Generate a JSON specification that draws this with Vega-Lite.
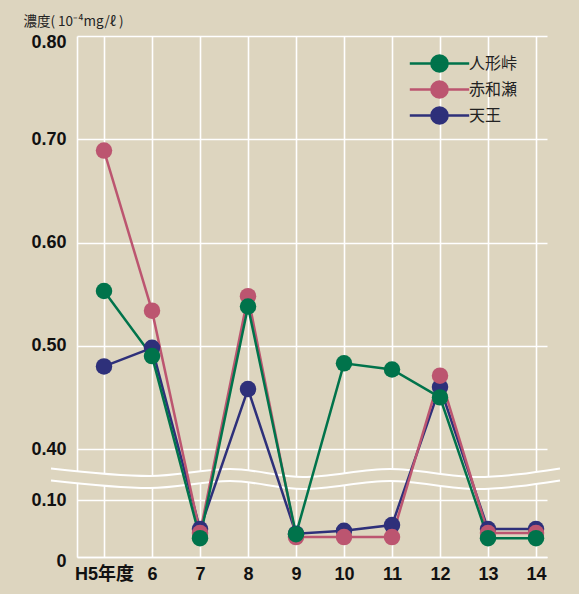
{
  "$schema": "https://vega.github.io/schema/vega-lite/v6.json",
  "autosize": {"type": "none"},
  "padding": {"left": 77, "top": 36, "right": 32, "bottom": 37},
  "width": 470,
  "height": 521,
  "background": "#ddd5bf",
  "config": {
    "view": {"stroke": null},
    "axis": {
      "gridColor": "#ffffff",
      "gridWidth": 1.6,
      "domainColor": "#ffffff",
      "domainWidth": 1.6,
      "ticks": false,
      "tickSize": 0,
      "labelFont": "Liberation Sans, Noto Sans CJK JP",
      "labelFontSize": 18,
      "labelFontWeight": "bold",
      "labelColor": "#111111"
    }
  },
  "datasets": {
    "series": [
      {"year": 5, "site": "天王", "value": 0.480},
      {"year": 6, "site": "天王", "value": 0.498},
      {"year": 7, "site": "天王", "value": 0.049},
      {"year": 8, "site": "天王", "value": 0.458},
      {"year": 9, "site": "天王", "value": 0.041},
      {"year": 10, "site": "天王", "value": 0.046},
      {"year": 11, "site": "天王", "value": 0.056},
      {"year": 12, "site": "天王", "value": 0.460},
      {"year": 13, "site": "天王", "value": 0.049},
      {"year": 14, "site": "天王", "value": 0.049},
      {"year": 5, "site": "赤和瀬", "value": 0.689},
      {"year": 6, "site": "赤和瀬", "value": 0.534},
      {"year": 7, "site": "赤和瀬", "value": 0.042},
      {"year": 8, "site": "赤和瀬", "value": 0.548},
      {"year": 9, "site": "赤和瀬", "value": 0.035},
      {"year": 10, "site": "赤和瀬", "value": 0.035},
      {"year": 11, "site": "赤和瀬", "value": 0.035},
      {"year": 12, "site": "赤和瀬", "value": 0.471},
      {"year": 13, "site": "赤和瀬", "value": 0.042},
      {"year": 14, "site": "赤和瀬", "value": 0.042},
      {"year": 5, "site": "人形峠", "value": 0.553},
      {"year": 6, "site": "人形峠", "value": 0.490},
      {"year": 7, "site": "人形峠", "value": 0.033},
      {"year": 8, "site": "人形峠", "value": 0.538},
      {"year": 9, "site": "人形峠", "value": 0.040},
      {"year": 10, "site": "人形峠", "value": 0.483},
      {"year": 11, "site": "人形峠", "value": 0.477},
      {"year": 12, "site": "人形峠", "value": 0.450},
      {"year": 13, "site": "人形峠", "value": 0.033},
      {"year": 14, "site": "人形峠", "value": 0.033}
    ],
    "wave": [
      {"x": 3.896, "t": 0.2853, "b": 0.2147},
      {"x": 5.958, "t": 0.2412, "b": 0.1706},
      {"x": 7.625, "t": 0.2824, "b": 0.2118},
      {"x": 9.146, "t": 0.2353, "b": 0.1647},
      {"x": 10.958, "t": 0.2824, "b": 0.2118},
      {"x": 12.771, "t": 0.2353, "b": 0.1647},
      {"x": 14.5, "t": 0.2853, "b": 0.2147}
    ]
  },
  "layer": [
    {
      "data": {"name": "wave"},
      "mark": {"type": "area", "interpolate": "monotone", "color": "#ddd5bf", "clip": false},
      "encoding": {
        "x": {"field": "x", "type": "quantitative", "scale": {"domain": [4.4375, 14.229], "nice": false, "zero": false},
              "axis": {"values": [5, 6, 7, 8, 9, 10, 11, 12, 13, 14], "title": null, "labelPadding": 8,
                       "labelExpr": "datum.value == 5 ? 'H5年度' : datum.label"}},
        "y": {"field": "t", "type": "quantitative",
              "scale": {"domain": [0, 0.1, 0.4, 0.8], "range": [521, 464, 413, 0], "nice": false, "zero": false},
              "axis": {
                "values": [0, 0.1, 0.4, 0.5, 0.6, 0.7, 0.8],
                "labelExpr": "datum.value == 0 ? '0' : format(datum.value, '.2f')",
                "labelPadding": 11,
                "labelOffset": {"condition": [{"test": "datum.value >= 0.79", "value": 6}, {"test": "datum.value == 0", "value": 4}], "value": 0},
                "title": "濃度( 10⁻⁴mg/ℓ  )",
                "titleAngle": 0,
                "titleX": -54,
                "titleY": -15,
                "titleAlign": "left",
                "titleBaseline": "middle",
                "titleFont": "Noto Sans CJK JP",
                "titleFontSize": 13.5,
                "titleFontWeight": "normal",
                "titleColor": "#222222"
              }},
        "y2": {"field": "b"}
      }
    },
    {
      "data": {"name": "wave"},
      "mark": {"type": "line", "interpolate": "monotone", "color": "#ffffff", "strokeWidth": 2, "clip": false},
      "encoding": {
        "x": {"field": "x", "type": "quantitative"},
        "y": {"field": "t", "type": "quantitative"}
      }
    },
    {
      "data": {"name": "wave"},
      "mark": {"type": "line", "interpolate": "monotone", "color": "#ffffff", "strokeWidth": 2, "clip": false},
      "encoding": {
        "x": {"field": "x", "type": "quantitative"},
        "y": {"field": "b", "type": "quantitative"}
      }
    },
    {
      "data": {"name": "series"},
      "encoding": {
        "x": {"field": "year", "type": "quantitative"},
        "y": {"field": "value", "type": "quantitative"},
        "color": {
          "field": "site", "type": "nominal",
          "scale": {"domain": ["人形峠", "赤和瀬", "天王"], "range": ["#00734b", "#bc5570", "#2e307a"]},
          "legend": {
            "title": null,
            "orient": "none",
            "legendX": 352,
            "legendY": 17,
            "padding": 0,
            "symbolType": "M-3.3,0H3.3M0.9,0A0.9,0.9,0,1,1,-0.9,0A0.9,0.9,0,1,1,0.9,0Z",
            "symbolSize": 324,
            "symbolStrokeWidth": 2.5,
            "labelOffset": 19,
            "rowPadding": -1,
            "labelFont": "Noto Sans CJK JP",
            "labelFontSize": 16,
            "labelColor": "#222222",
            "encode": {
              "symbols": {
                "update": {
                  "fill": {"scale": "color", "field": "value"},
                  "stroke": {"scale": "color", "field": "value"},
                  "opacity": {"value": 1}
                }
              }
            }
          }
        }
      },
      "layer": [
        {"mark": {"type": "line", "strokeWidth": 2.5}},
        {"mark": {"type": "point", "filled": true, "size": 272, "opacity": 1}}
      ]
    }
  ]
}
